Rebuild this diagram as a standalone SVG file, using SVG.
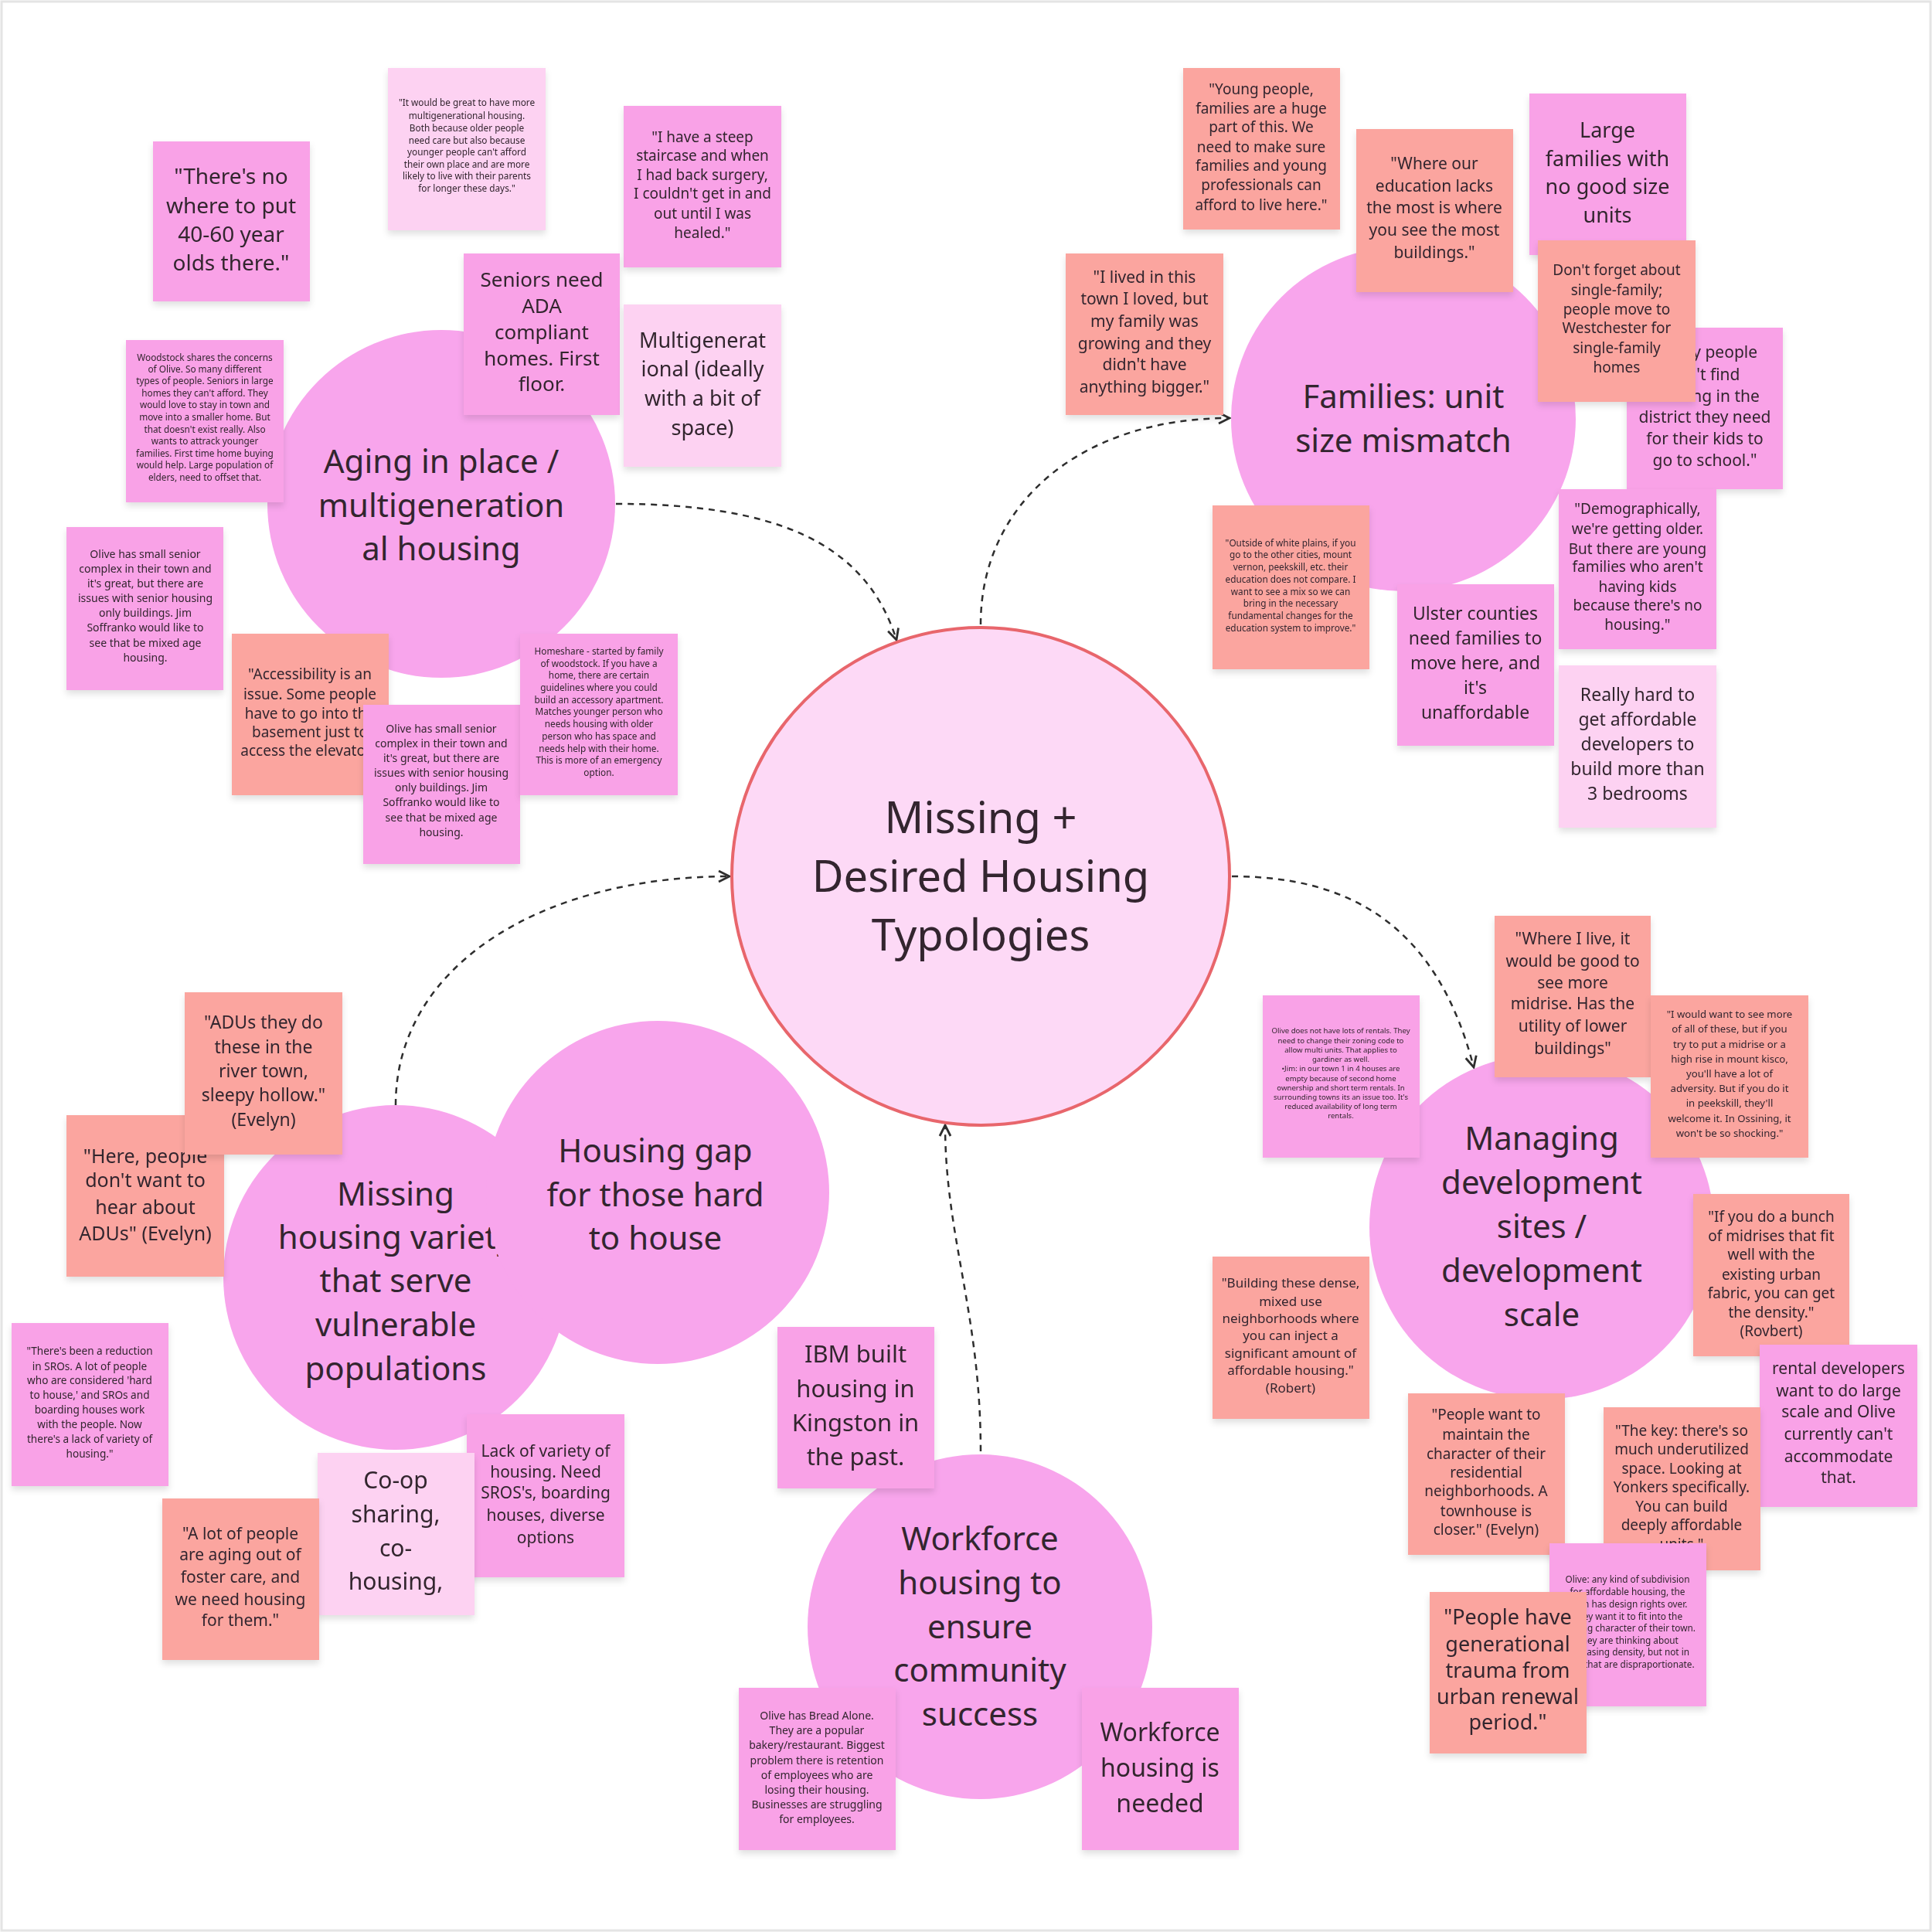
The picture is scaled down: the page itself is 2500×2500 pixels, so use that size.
<svg xmlns="http://www.w3.org/2000/svg" width="2500" height="2500" viewBox="0 0 2500 2500">
<defs>
<style>
.bg{fill:#ffffff}
.frame{fill:none;stroke:#e4e4e4;stroke-width:3}
.big{fill:#f8a5ec}
.center{fill:#fdd9f6;stroke:#e8666c;stroke-width:4}
.np{fill:#f9a2e7}
.ns{fill:#fba59f}
.nl{fill:#fdd2f2}
text{font-family:"Noto Sans","Open Sans","DejaVu Sans",sans-serif;fill:#33252f;text-anchor:middle}
.ct{font-size:56px}
.bt{font-size:42px}
.conn{fill:none;stroke:#2e2e2e;stroke-width:2.5;stroke-dasharray:8 7}
</style>
<filter id="sh" x="-10%" y="-10%" width="120%" height="125%">
<feDropShadow dx="0" dy="5" stdDeviation="4" flood-color="#000" flood-opacity="0.12"/>
</filter>
<marker id="arr" viewBox="0 0 10 10" refX="9" refY="5" markerWidth="7" markerHeight="7" orient="auto-start-reverse" markerUnits="strokeWidth">
<path d="M1,1 L9,5 L1,9" fill="none" stroke="#2e2e2e" stroke-width="1.6"/>
</marker>
</defs>
<rect class="bg" x="0" y="0" width="2500" height="2500"/>
<rect class="frame" x="2" y="2" width="2496" height="2496"/>

<!-- big circles -->
<g id="c-aging">
<circle class="big" cx="571" cy="652" r="225"/>
<text class="bt" x="571" y="612">Aging in place /</text>
<text class="bt" x="571" y="669">multigeneration</text>
<text class="bt" x="571" y="725">al housing</text>
</g>
<g id="c-families">
<circle class="big" cx="1816" cy="542" r="223"/>
<text class="bt" x="1816" y="528">Families: unit</text>
<text class="bt" x="1816" y="585">size mismatch</text>
</g>
<g id="c-managing">
<circle class="big" cx="1995" cy="1588" r="223"/>
<text class="bt" x="1995" y="1488">Managing</text>
<text class="bt" x="1995" y="1545">development</text>
<text class="bt" x="1995" y="1602">sites /</text>
<text class="bt" x="1995" y="1659">development</text>
<text class="bt" x="1995" y="1716">scale</text>
</g>
<g id="c-workforce">
<circle class="big" cx="1268" cy="2105" r="223"/>
<text class="bt" x="1268" y="2006">Workforce</text>
<text class="bt" x="1268" y="2063">housing to</text>
<text class="bt" x="1268" y="2120">ensure</text>
<text class="bt" x="1268" y="2176">community</text>
<text class="bt" x="1268" y="2233">success</text>
</g>
<g id="c-missing">
<circle class="big" cx="512" cy="1653" r="223"/>
<text class="bt" x="512" y="1560">Missing</text>
<text class="bt" x="512" y="1616">housing variety</text>
<text class="bt" x="512" y="1672">that serve</text>
<text class="bt" x="512" y="1729">vulnerable</text>
<text class="bt" x="512" y="1786">populations</text>
</g>
<g id="c-gap">
<circle class="big" cx="851" cy="1543" r="222"/>
<text class="bt" x="848" y="1504">Housing gap</text>
<text class="bt" x="848" y="1561">for those hard</text>
<text class="bt" x="848" y="1617">to house</text>
</g>

<!-- connectors -->
<g id="connectors">
<path class="conn" d="M797,652 C1000,652 1120,700 1160,828" marker-end="url(#arr)"/>
<path class="conn" d="M1269,808 C1269,650 1400,541 1591,541" marker-end="url(#arr)"/>
<path class="conn" d="M1594,1134 C1750,1134 1860,1200 1907,1381" marker-end="url(#arr)"/>
<path class="conn" d="M1269,1878 C1269,1700 1223,1600 1223,1456" marker-end="url(#arr)"/>
<path class="conn" d="M512,1430 C512,1250 700,1134 944,1134" marker-end="url(#arr)"/>
</g>

<!-- center -->
<g id="c-center">
<circle class="center" cx="1269" cy="1134" r="322"/>
<text class="ct" x="1269" y="1078">Missing +</text>
<text class="ct" x="1269" y="1154">Desired Housing</text>
<text class="ct" x="1269" y="1230">Typologies</text>
</g>

<!-- Aging cluster notes -->
<g id="n-nowhere" filter="url(#sh)">
<rect class="np" x="198" y="183" width="203" height="207"/>
<g font-size="28"><text x="299" y="238">"There's no</text><text x="299" y="276">where to put</text><text x="299" y="313">40-60 year</text><text x="299" y="350">olds there."</text></g>
</g>
<g id="n-great" filter="url(#sh)">
<rect class="nl" x="502" y="88" width="204" height="210"/>
<g font-size="11.8"><text x="604" y="137">"It would be great to have more</text><text x="604" y="154">multigenerational housing.</text><text x="604" y="170">Both because older people</text><text x="604" y="186">need care but also because</text><text x="604" y="201">younger people can't afford</text><text x="604" y="217">their own place and are more</text><text x="604" y="232">likely to live with their parents</text><text x="604" y="248">for longer these days."</text></g>
</g>
<g id="n-staircase" filter="url(#sh)">
<rect class="np" x="807" y="137" width="204" height="209"/>
<g font-size="19"><text x="909" y="184">"I have a steep</text><text x="909" y="208">staircase and when</text><text x="909" y="233">I had back surgery,</text><text x="909" y="257">I couldn't get in and</text><text x="909" y="283">out until I was</text><text x="909" y="308">healed."</text></g>
</g>
<g id="n-seniors" filter="url(#sh)">
<rect class="np" x="600" y="328" width="202" height="209"/>
<g font-size="26"><text x="701" y="371">Seniors need</text><text x="701" y="405">ADA</text><text x="701" y="439">compliant</text><text x="701" y="473">homes. First</text><text x="701" y="506">floor.</text></g>
</g>
<g id="n-multigen" filter="url(#sh)">
<rect class="nl" x="807" y="394" width="204" height="210"/>
<g font-size="27"><text x="909" y="450">Multigenerat</text><text x="909" y="487">ional (ideally</text><text x="909" y="525">with a bit of</text><text x="909" y="563">space)</text></g>
</g>
<g id="n-woodstock" filter="url(#sh)">
<rect class="np" x="163" y="440" width="204" height="210"/>
<g font-size="11.8"><text x="265" y="467">Woodstock shares the concerns</text><text x="265" y="482">of Olive. So many different</text><text x="265" y="497">types of people. Seniors in large</text><text x="265" y="513">homes they can't afford. They</text><text x="265" y="528">would love to stay in town and</text><text x="265" y="544">move into a smaller home. But</text><text x="265" y="560">that doesn't exist really. Also</text><text x="265" y="575">wants to attrack younger</text><text x="265" y="591">families. First time home buying</text><text x="265" y="606">would help. Large population of</text><text x="265" y="622">elders, need to offset that.</text></g>
</g>
<g id="n-olive1" filter="url(#sh)">
<rect class="np" x="86" y="682" width="203" height="211"/>
<g font-size="14"><text x="188" y="722">Olive has small senior</text><text x="188" y="741">complex in their town and</text><text x="188" y="760">it's great, but there are</text><text x="188" y="779">issues with senior housing</text><text x="188" y="798">only buildings. Jim</text><text x="188" y="817">Soffranko would like to</text><text x="188" y="837">see that be mixed age</text><text x="188" y="856">housing.</text></g>
</g>
<g id="n-access" filter="url(#sh)">
<rect class="ns" x="300" y="820" width="203" height="209"/>
<g font-size="19"><text x="401" y="879">"Accessibility is an</text><text x="401" y="905">issue. Some people</text><text x="401" y="930">have to go into the</text><text x="401" y="954">basement just to</text><text x="401" y="978">access the elevator."</text></g>
</g>
<g id="n-olive2" filter="url(#sh)">
<rect class="np" x="470" y="912" width="203" height="206"/>
<g font-size="14"><text x="571" y="948">Olive has small senior</text><text x="571" y="967">complex in their town and</text><text x="571" y="986">it's great, but there are</text><text x="571" y="1005">issues with senior housing</text><text x="571" y="1024">only buildings. Jim</text><text x="571" y="1043">Soffranko would like to</text><text x="571" y="1063">see that be mixed age</text><text x="571" y="1082">housing.</text></g>
</g>
<g id="n-homeshare" filter="url(#sh)">
<rect class="np" x="673" y="820" width="204" height="209"/>
<g font-size="11.8"><text x="775" y="847">Homeshare - started by family</text><text x="775" y="863">of woodstock. If you have a</text><text x="775" y="878">home, there are certain</text><text x="775" y="894">guidelines where you could</text><text x="775" y="910">build an accessory apartment.</text><text x="775" y="925">Matches younger person who</text><text x="775" y="941">needs housing with older</text><text x="775" y="957">person who has space and</text><text x="775" y="973">needs help with their home.</text><text x="775" y="988">This is more of an emergency</text><text x="775" y="1004">option.</text></g>
</g>

<!-- Families cluster notes -->
<g id="n-young" filter="url(#sh)">
<rect class="ns" x="1531" y="88" width="203" height="209"/>
<g font-size="19"><text x="1632" y="122">"Young people,</text><text x="1632" y="147">families are a huge</text><text x="1632" y="171">part of this. We</text><text x="1632" y="197">need to make sure</text><text x="1632" y="221">families and young</text><text x="1632" y="246">professionals can</text><text x="1632" y="272">afford to live here."</text></g>
</g>
<g id="n-education" filter="url(#sh)">
<rect class="ns" x="1755" y="167" width="203" height="211"/>
<g font-size="21"><text x="1856" y="219">"Where our</text><text x="1856" y="248">education lacks</text><text x="1856" y="276">the most is where</text><text x="1856" y="305">you see the most</text><text x="1856" y="334">buildings."</text></g>
</g>
<g id="n-large" filter="url(#sh)">
<rect class="np" x="1979" y="121" width="203" height="209"/>
<g font-size="27"><text x="2080" y="178">Large</text><text x="2080" y="215">families with</text><text x="2080" y="251">no good size</text><text x="2080" y="288">units</text></g>
</g>
<g id="n-lived" filter="url(#sh)">
<rect class="ns" x="1379" y="328" width="204" height="209"/>
<g font-size="21"><text x="1481" y="366">"I lived in this</text><text x="1481" y="394">town I loved, but</text><text x="1481" y="423">my family was</text><text x="1481" y="452">growing and they</text><text x="1481" y="479">didn't have</text><text x="1481" y="508">anything bigger."</text></g>
</g>
<g id="n-school" filter="url(#sh)">
<rect class="np" x="2105" y="424" width="202" height="209"/>
<g font-size="21"><text x="2206" y="463">"Many people</text><text x="2206" y="492">can't find</text><text x="2206" y="520">housing in the</text><text x="2206" y="547">district they need</text><text x="2206" y="575">for their kids to</text><text x="2206" y="603">go to school."</text></g>
</g>
<g id="n-single" filter="url(#sh)">
<rect class="ns" x="1990" y="311" width="204" height="209"/>
<g font-size="19"><text x="2092" y="356">Don't forget about</text><text x="2092" y="382">single-family;</text><text x="2092" y="407">people move to</text><text x="2092" y="431">Westchester for</text><text x="2092" y="457">single-family</text><text x="2092" y="482">homes</text></g>
</g>
<g id="n-outside" filter="url(#sh)">
<rect class="ns" x="1569" y="654" width="203" height="212"/>
<g font-size="11.8"><text x="1670" y="707">"Outside of white plains, if you</text><text x="1670" y="722">go to the other cities, mount</text><text x="1670" y="738">vernon, peekskill, etc. their</text><text x="1670" y="754">education does not compare. I</text><text x="1670" y="770">want to see a mix so we can</text><text x="1670" y="785">bring in the necessary</text><text x="1670" y="801">fundamental changes for the</text><text x="1670" y="817">education system to improve."</text></g>
</g>
<g id="n-ulster" filter="url(#sh)">
<rect class="np" x="1808" y="756" width="203" height="209"/>
<g font-size="23"><text x="1909" y="802">Ulster counties</text><text x="1909" y="834">need families to</text><text x="1909" y="866">move here, and</text><text x="1909" y="898">it's</text><text x="1909" y="930">unaffordable</text></g>
</g>
<g id="n-demo" filter="url(#sh)">
<rect class="np" x="2017" y="633" width="204" height="207"/>
<g font-size="19"><text x="2119" y="665">"Demographically,</text><text x="2119" y="691">we're getting older.</text><text x="2119" y="717">But there are young</text><text x="2119" y="740">families who aren't</text><text x="2119" y="766">having kids</text><text x="2119" y="790">because there's no</text><text x="2119" y="815">housing."</text></g>
</g>
<g id="n-bedrooms" filter="url(#sh)">
<rect class="nl" x="2017" y="861" width="204" height="210"/>
<g font-size="23"><text x="2119" y="907">Really hard to</text><text x="2119" y="939">get affordable</text><text x="2119" y="971">developers to</text><text x="2119" y="1003">build more than</text><text x="2119" y="1035">3 bedrooms</text></g>
</g>

<!-- Managing cluster notes -->
<g id="n-midrise" filter="url(#sh)">
<rect class="ns" x="1934" y="1185" width="202" height="209"/>
<g font-size="21"><text x="2035" y="1222">"Where I live, it</text><text x="2035" y="1251">would be good to</text><text x="2035" y="1279">see more</text><text x="2035" y="1306">midrise. Has the</text><text x="2035" y="1335">utility of lower</text><text x="2035" y="1364">buildings"</text></g>
</g>
<g id="n-rentals" filter="url(#sh)">
<rect class="np" x="1634" y="1288" width="203" height="210"/>
<g font-size="9.6"><text x="1735" y="1337">Olive does not have lots of rentals. They</text><text x="1735" y="1350">need to change their zoning code to</text><text x="1735" y="1362">allow multi units. That applies to</text><text x="1735" y="1374">gardiner as well.</text><text x="1735" y="1386">•Jim: in our town 1 in 4 houses are</text><text x="1735" y="1399">empty because of second home</text><text x="1735" y="1411">ownership and short term rentals. In</text><text x="1735" y="1423">surrounding towns its an issue too. It's</text><text x="1735" y="1435">reduced availability of long term</text><text x="1735" y="1447">rentals.</text></g>
</g>
<g id="n-kisco" filter="url(#sh)">
<rect class="ns" x="2136" y="1288" width="204" height="210"/>
<g font-size="13.2"><text x="2238" y="1317">"I would want to see more</text><text x="2238" y="1336">of all of these, but if you</text><text x="2238" y="1356">try to put a midrise or a</text><text x="2238" y="1375">high rise in mount kisco,</text><text x="2238" y="1394">you'll have a lot of</text><text x="2238" y="1413">adversity. But if you do it</text><text x="2238" y="1432">in peekskill, they'll</text><text x="2238" y="1452">welcome it. In Ossining, it</text><text x="2238" y="1471">won't be so shocking."</text></g>
</g>
<g id="n-bunch" filter="url(#sh)">
<rect class="ns" x="2191" y="1545" width="202" height="210"/>
<g font-size="19"><text x="2292" y="1581">"If you do a bunch</text><text x="2292" y="1606">of midrises that fit</text><text x="2292" y="1630">well with the</text><text x="2292" y="1656">existing urban</text><text x="2292" y="1680">fabric, you can get</text><text x="2292" y="1705">the density."</text><text x="2292" y="1729">(Rovbert)</text></g>
</g>
<g id="n-dense" filter="url(#sh)">
<rect class="ns" x="1569" y="1626" width="203" height="210"/>
<g font-size="17"><text x="1670" y="1666">"Building these dense,</text><text x="1670" y="1690">mixed use</text><text x="1670" y="1712">neighborhoods where</text><text x="1670" y="1734">you can inject a</text><text x="1670" y="1757">significant amount of</text><text x="1670" y="1779">affordable housing."</text><text x="1670" y="1802">(Robert)</text></g>
</g>
<g id="n-rentaldev" filter="url(#sh)">
<rect class="np" x="2277" y="1740" width="204" height="210"/>
<g font-size="21"><text x="2379" y="1778">rental developers</text><text x="2379" y="1807">want to do large</text><text x="2379" y="1834">scale and Olive</text><text x="2379" y="1863">currently can't</text><text x="2379" y="1892">accommodate</text><text x="2379" y="1919">that.</text></g>
</g>
<g id="n-character" filter="url(#sh)">
<rect class="ns" x="1822" y="1803" width="203" height="209"/>
<g font-size="19"><text x="1923" y="1837">"People want to</text><text x="1923" y="1863">maintain the</text><text x="1923" y="1888">character of their</text><text x="1923" y="1912">residential</text><text x="1923" y="1936">neighborhoods. A</text><text x="1923" y="1962">townhouse is</text><text x="1923" y="1986">closer." (Evelyn)</text></g>
</g>
<g id="n-key" filter="url(#sh)">
<rect class="ns" x="2075" y="1821" width="203" height="211"/>
<g font-size="19"><text x="2176" y="1858">"The key: there's so</text><text x="2176" y="1882">much underutilized</text><text x="2176" y="1907">space. Looking at</text><text x="2176" y="1931">Yonkers specifically.</text><text x="2176" y="1956">You can build</text><text x="2176" y="1980">deeply affordable</text><text x="2176" y="2005">units."</text></g>
</g>
<g id="n-subdiv" filter="url(#sh)">
<rect class="np" x="2005" y="1997" width="203" height="211"/>
<g font-size="11.8"><text x="2106" y="2048">Olive: any kind of subdivision</text><text x="2106" y="2064">for affordable housing, the</text><text x="2106" y="2080">town has design rights over.</text><text x="2106" y="2096">They want it to fit into the</text><text x="2106" y="2111">existing character of their town.</text><text x="2106" y="2127">They are thinking about</text><text x="2106" y="2142">increasing density, but not in</text><text x="2106" y="2158">ways that are dispraportionate.</text></g>
</g>
<g id="n-trauma" filter="url(#sh)">
<rect class="ns" x="1850" y="2060" width="203" height="209"/>
<g font-size="27"><text x="1951" y="2102">"People have</text><text x="1951" y="2137">generational</text><text x="1951" y="2171">trauma from</text><text x="1951" y="2205">urban renewal</text><text x="1951" y="2238">period."</text></g>
</g>

<!-- Workforce cluster notes -->
<g id="n-ibm" filter="url(#sh)">
<rect class="np" x="1006" y="1717" width="203" height="209"/>
<g font-size="31"><text x="1107" y="1763">IBM built</text><text x="1107" y="1808">housing in</text><text x="1107" y="1852">Kingston in</text><text x="1107" y="1896">the past.</text></g>
</g>
<g id="n-bread" filter="url(#sh)">
<rect class="np" x="956" y="2184" width="203" height="210"/>
<g font-size="14"><text x="1057" y="2225">Olive has Bread Alone.</text><text x="1057" y="2244">They are a popular</text><text x="1057" y="2263">bakery/restaurant. Biggest</text><text x="1057" y="2283">problem there is retention</text><text x="1057" y="2302">of employees who are</text><text x="1057" y="2321">losing their housing.</text><text x="1057" y="2340">Businesses are struggling</text><text x="1057" y="2359">for employees.</text></g>
</g>
<g id="n-needed" filter="url(#sh)">
<rect class="np" x="1400" y="2184" width="203" height="210"/>
<g font-size="32"><text x="1501" y="2253">Workforce</text><text x="1501" y="2299">housing is</text><text x="1501" y="2345">needed</text></g>
</g>

<!-- Missing cluster notes -->
<g id="n-here" filter="url(#sh)">
<rect class="ns" x="86" y="1443" width="204" height="209"/>
<g font-size="25"><text x="188" y="1505">"Here, people</text><text x="188" y="1536">don't want to</text><text x="188" y="1571">hear about</text><text x="188" y="1605">ADUs" (Evelyn)</text></g>
</g>
<g id="n-adus" filter="url(#sh)">
<rect class="ns" x="239" y="1284" width="204" height="210"/>
<g font-size="23"><text x="341" y="1331">"ADUs they do</text><text x="341" y="1363">these in the</text><text x="341" y="1394">river town,</text><text x="341" y="1425">sleepy hollow."</text><text x="341" y="1457">(Evelyn)</text></g>
</g>
<g id="n-sros" filter="url(#sh)">
<rect class="np" x="15" y="1712" width="203" height="211"/>
<g font-size="13.6"><text x="116" y="1753">"There's been a reduction</text><text x="116" y="1773">in SROs. A lot of people</text><text x="116" y="1791">who are considered 'hard</text><text x="116" y="1810">to house,' and SROs and</text><text x="116" y="1829">boarding houses work</text><text x="116" y="1848">with the people. Now</text><text x="116" y="1867">there's a lack of variety of</text><text x="116" y="1886">housing."</text></g>
</g>
<g id="n-lack" filter="url(#sh)">
<rect class="np" x="604" y="1830" width="204" height="211"/>
<g font-size="21"><text x="706" y="1885">Lack of variety of</text><text x="706" y="1912">housing. Need</text><text x="706" y="1939">SROS's, boarding</text><text x="706" y="1968">houses, diverse</text><text x="706" y="1997">options</text></g>
</g>
<g id="n-coop" filter="url(#sh)">
<rect class="nl" x="411" y="1880" width="203" height="210"/>
<g font-size="30"><text x="512" y="1926">Co-op</text><text x="512" y="1970">sharing,</text><text x="512" y="2014">co-</text><text x="512" y="2057">housing,</text></g>
</g>
<g id="n-foster" filter="url(#sh)">
<rect class="ns" x="210" y="1939" width="203" height="209"/>
<g font-size="21"><text x="311" y="1992">"A lot of people</text><text x="311" y="2019">are aging out of</text><text x="311" y="2048">foster care, and</text><text x="311" y="2077">we need housing</text><text x="311" y="2104">for them."</text></g>
</g>
</svg>
